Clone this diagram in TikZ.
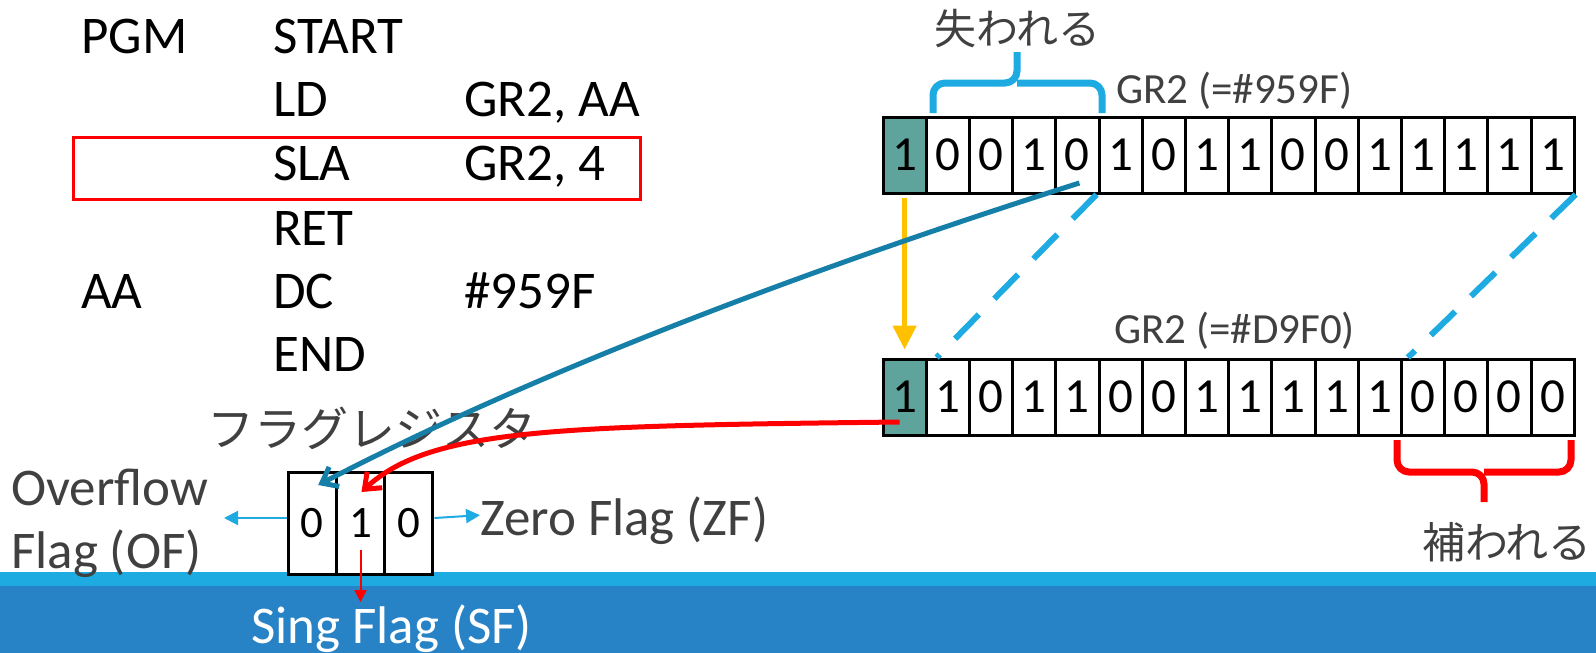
\documentclass[tikz,border=0pt]{standalone}
\usepackage{fontspec}
\setmainfont{Carlito}
\newfontfamily\jpfont{Noto Sans CJK JP}
\usetikzlibrary{arrows.meta}
\definecolor{TextClr}{RGB}{64,64,64}
\definecolor{CellClr}{RGB}{95,163,157}
\definecolor{LightClr}{RGB}{29,171,226}
\definecolor{BandClr}{RGB}{39,130,198}
\definecolor{TealClr}{RGB}{22,127,168}
\definecolor{GoldClr}{RGB}{255,192,0}
\newcommand{\fsz}[1]{\fontsize{#1}{#1}\selectfont}

\begin{document}
\begin{tikzpicture}[x=1pt,y=-1pt,
  code/.style={anchor=base west,inner sep=0pt,font=\fsz{53}},
  bit/.style={draw,line width=3pt,fill=white,minimum width=43.2pt,minimum height=76pt,inner sep=0pt,font=\fsz{49}},
  flagbit/.style={draw,line width=3pt,fill=white,minimum width=48.3pt,minimum height=102pt,inner sep=0pt,font=\fsz{45}},
  reglbl/.style={anchor=base west,inner sep=0pt,text=TextClr,font=\fsz{43}},
  flaglbl/.style={anchor=base west,inner sep=0pt,text=TextClr,font=\fsz{53}},
  jplbl/.style={inner sep=0pt,text=TextClr},
  brace/.style={line width=7pt,rounded corners=12pt},
  shiftline/.style={LightClr,line width=6pt,dash pattern=on 34pt off 22pt},
  flagarr/.style={LightClr,line width=2pt,-{Triangle[length=14pt,width=14pt]}},
  bentarr/.style={line width=5pt,-{Straight Barb[length=14pt,width=22pt]}}]
\useasboundingbox (0,0) rectangle (1596,653);

\fill[LightClr] (0,572) rectangle (1596,586);
\fill[BandClr] (0,586) rectangle (1596,653);

\node[code] (pgm) at (81,53.3) {PGM};
\node[code] (start) at (273,53.3) {START};
\node[code] (ld) at (273,116.7) {LD};
\node[code] (ldarg) at (464,116.7) {GR2, AA};
\node[code] (sla) at (273,180) {SLA};
\node[code] (slaarg) at (464,180) {GR2, 4};
\node[code] (ret) at (273,245) {RET};
\node[code] (aa) at (81,308) {AA};
\node[code] (dc) at (273,308) {DC};
\node[code] (dcarg) at (464,308) {\#959F};
\node[code] (endop) at (273,371.7) {END};
\draw[red,line width=3pt] (73.7,137) rectangle (640,199);

\node[bit,fill=CellClr] (t1) at (904.6,155) {1};
\foreach \b [count=\i from 2] in {0,0,1,0,1,0,1,1,0,0,1,1,1,1,1}
  \node[bit] (t\i) at ({883+43.2*(\i-0.5)},155) {\b};
\node[bit,fill=CellClr] (b1) at (904.6,397) {1};
\foreach \b [count=\i from 2] in {1,0,1,1,0,0,1,1,1,1,1,0,0,0,0}
  \node[bit] (b\i) at ({883+43.2*(\i-0.5)},397) {\b};

\node[reglbl] (gra) at (1116,103) {GR2 (=\#959F)};
\node[reglbl] (grb) at (1114,343) {GR2 (=\#D9F0)};

\draw[brace,LightClr] (933,113) |- (1017,83) -- (1017,52);
\draw[brace,LightClr] (1102,113) |- (1017,83);
\node[jplbl,font=\jpfont\fsz{42}] (lost) at (1017,29) {失われる};
\draw[brace,red] (1397,440) |- (1484,472) -- (1484,502);
\draw[brace,red] (1571,440) |- (1484,472);
\node[jplbl,font=\jpfont\fsz{43}] (fill) at (1507,542) {補われる};

\draw[shiftline] ([xshift=-4pt]t5.south east) -- ([xshift=12pt]b2.north west);
\draw[shiftline] (t16.south east) -- ([xshift=8pt]b13.north west);
\draw[GoldClr,line width=5pt,shorten <=3pt,shorten >=8pt,-{Triangle[length=24pt,width=23pt]}] (t1.south) -- (b1.north);

\node[jplbl,font=\jpfont\fsz{47}] (flagreg) at (372,428) {フラグレジスタ};
\node[flagbit] (f1) at (312.2,523) {0};
\node[flagbit] (f2) at (360.5,523) {1};
\node[flagbit] (f3) at (408.8,523) {0};

\draw[bentarr,TealClr] ([shift={(2,28)}]t5.center) .. controls (830,262) and (547,366) .. ([shift={(6,-38)}]f1.center);
\draw[bentarr,red] ([shift={(-5,25)}]b1.center) .. controls (560,426) and (430,428) .. ([shift={(1,-31)}]f2.center);

\node[flaglbl] (of1) at (11,505) {Overflow};
\node[flaglbl] (of2) at (11,568) {Flag (OF)};
\node[flaglbl] (zf) at (480,535) {Zero Flag (ZF)};
\node[flaglbl,text=white,inner sep=2pt] (sf) at (249,643) {Sing Flag (SF)};
\coordinate (ofpt) at (224,518);
\draw[flagarr] ([yshift=5pt]f1.west) -- (ofpt);
\draw[flagarr] ([yshift=5pt]f3.east) -- ([yshift=5pt]zf.west);
\draw[red,line width=2pt,-{Triangle[length=12pt,width=12pt]}] ([yshift=-27pt]f2.center) -- (f2.center |- sf.north);

\end{tikzpicture}
\end{document}
